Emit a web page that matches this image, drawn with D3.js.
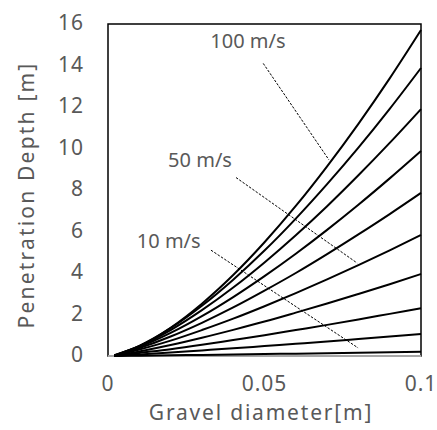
<!DOCTYPE html>
<html>
<head>
<meta charset="utf-8">
<script src="https://cdn.jsdelivr.net/npm/d3@7"></script>
<style>
  body { margin: 0; background: #fff; }
  text { font-family: "Noto Sans", "Noto Sans CJK JP", sans-serif; fill: #595959; }
</style>
</head>
<body>
<div id="chart"></div>
<script>
// Gravel diameter [m]
const diameters = [0.002, 0.01, 0.02, 0.03, 0.04, 0.05, 0.06, 0.07, 0.08, 0.09, 0.1];

// Penetration depth [m] for each impact velocity
const depth10 = [0, 0.016, 0.034, 0.053, 0.073, 0.093, 0.114, 0.135, 0.156, 0.178, 0.2];
const depth20 = [0.002, 0.075, 0.17, 0.27, 0.37, 0.48, 0.59, 0.7, 0.82, 0.94, 1.06];
const depth30 = [0.004, 0.15, 0.33, 0.54, 0.77, 1.0, 1.25, 1.5, 1.76, 2.03, 2.3];
const depth40 = [0.005, 0.22, 0.53, 0.88, 1.26, 1.66, 2.09, 2.53, 2.99, 3.46, 3.95];
const depth50 = [0.008, 0.31, 0.74, 1.25, 1.8, 2.4, 3.03, 3.69, 4.38, 5.09, 5.83];
const depth60 = [0.01, 0.38, 0.94, 1.6, 2.34, 3.15, 4.0, 4.91, 5.86, 6.84, 7.86];
const depth70 = [0.02, 0.43, 1.11, 1.92, 2.84, 3.85, 4.93, 6.08, 7.29, 8.56, 9.88];
const depth80 = [0.02, 0.47, 1.25, 2.21, 3.3, 4.51, 5.82, 7.22, 8.71, 10.27, 11.9];
const depth90 = [0.03, 0.49, 1.34, 2.42, 3.68, 5.08, 6.62, 8.28, 10.04, 11.91, 13.88];
const depth100 = [0.04, 0.47, 1.36, 2.52, 3.9, 5.48, 7.23, 9.14, 11.19, 13.38, 15.71];

const series = [depth10, depth20, depth30, depth40, depth50, depth60, depth70, depth80, depth90, depth100];

const yTicks = [0, 2, 4, 6, 8, 10, 12, 14, 16];
const xTicks = [0, 0.05, 0.1];

// Labels with leader lines: [text, label x, label y, line start x, y, line end x, y] in data units
const labels = [
	["100 m/s", 0.0447, 15.2, 0.0496, 14.1, 0.0706, 9.45],
	["50 m/s", 0.0294, 9.45, 0.0409, 8.6, 0.0796, 4.48],
	["10 m/s", 0.0194, 5.55, 0.0329, 5.1, 0.0799, 0.39],
];

const width = 437;
const height = 430;

const x = d3.scaleLinear().domain([0, 0.1]).range([108, 421]);
const y = d3.scaleLinear().domain([0, 16]).range([356, 24]);

const svg = d3
	.select("#chart")
	.append("svg")
	.attr("width", width)
	.attr("height", height);

// Plot area border
svg.append("rect")
	.attr("x", x(0))
	.attr("y", y(16))
	.attr("width", x(0.1) - x(0))
	.attr("height", y(0) - y(16))
	.attr("fill", "none")
	.attr("stroke", "#000")
	.attr("stroke-width", 1.5);

// Horizontal axis line
svg.append("line")
	.attr("x1", x(0))
	.attr("x2", x(0.1))
	.attr("y1", y(0))
	.attr("y2", y(0))
	.attr("stroke", "#a6a6a6")
	.attr("stroke-width", 2);

// Tick labels
svg.append("g")
	.selectAll("text")
	.data(yTicks)
	.join("text")
	.attr("x", 84)
	.attr("y", (d) => y(d) - 1)
	.attr("dy", "0.35em")
	.attr("text-anchor", "end")
	.attr("letter-spacing", 1)
	.style("font-size", "21px")
	.text((d) => d);

svg.append("g")
	.selectAll("text")
	.data(xTicks)
	.join("text")
	.attr("x", (d) => x(d))
	.attr("y", 384)
	.attr("dy", "0.35em")
	.attr("text-anchor", "middle")
	.attr("letter-spacing", 1)
	.style("font-size", "21px")
	.text((d) => d);

// Axis titles
svg.append("text")
	.attr("x", 261)
	.attr("y", 413)
	.attr("dy", "0.35em")
	.attr("text-anchor", "middle")
	.attr("letter-spacing", 1.8)
	.style("font-size", "21px")
	.text("Gravel diameter[m]");

svg.append("text")
	.attr("transform", "translate(27,195) rotate(-90)")
	.attr("dy", "0.35em")
	.attr("text-anchor", "middle")
	.attr("letter-spacing", 2.2)
	.style("font-size", "21px")
	.text("Penetration Depth [m]");

// Curves
const line = d3
	.line()
	.x((d, i) => x(diameters[i]))
	.y((d) => y(d))
	.curve(d3.curveMonotoneX);

svg.append("g")
	.selectAll("path")
	.data(series)
	.join("path")
	.attr("d", line)
	.attr("fill", "none")
	.attr("stroke", "#000")
	.attr("stroke-width", 2);

// Leader lines and velocity labels
svg.append("g")
	.selectAll("line")
	.data(labels)
	.join("line")
	.attr("x1", (d) => x(d[3]))
	.attr("y1", (d) => y(d[4]))
	.attr("x2", (d) => x(d[5]))
	.attr("y2", (d) => y(d[6]))
	.attr("stroke", "#000")
	.attr("stroke-width", 1)
	.attr("stroke-dasharray", "2.5,1.5");

svg.append("g")
	.selectAll("text")
	.data(labels)
	.join("text")
	.attr("x", (d) => x(d[1]))
	.attr("y", (d) => y(d[2]))
	.attr("dy", "0.35em")
	.attr("text-anchor", "middle")
	.style("font-size", "20px")
	.text((d) => d[0]);
</script>
</body>
</html>
